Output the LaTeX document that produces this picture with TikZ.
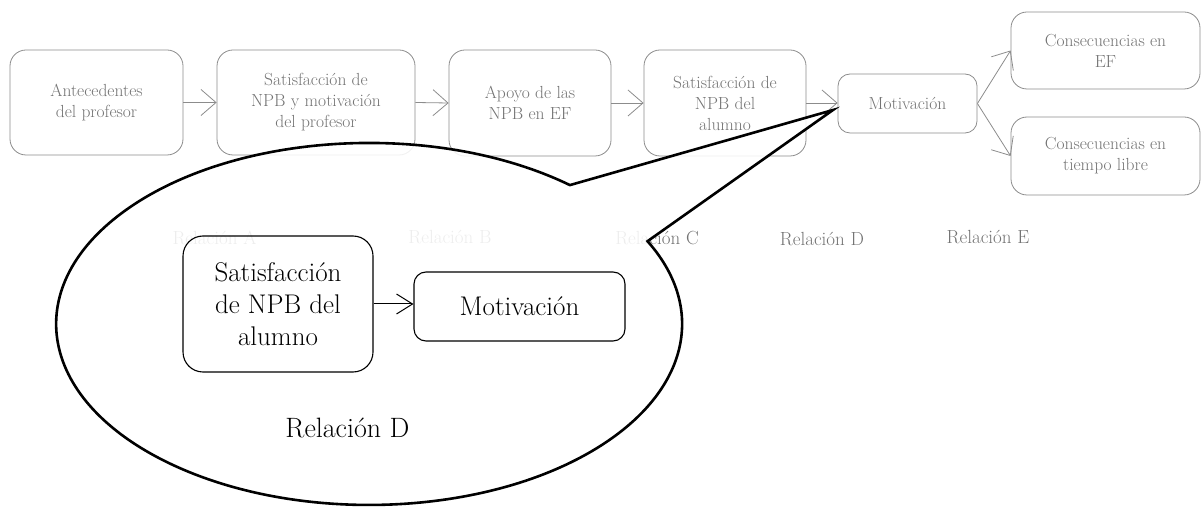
\documentclass[tikz,border=0pt]{standalone}
\usetikzlibrary{arrows.meta,calc}
\definecolor{boxgray}{gray}{0.55}
\definecolor{txtgray}{gray}{0.45}
\tikzset{
  model/.style={draw=boxgray, line width=0.8pt, rounded corners=16pt, text=txtgray,
    align=center, font=\fontsize{17.5}{21}\selectfont, inner sep=0pt},
  link/.style={draw=boxgray, line width=0.8pt,
    -{Straight Barb[length=15pt,width=26pt]}},
  rel/.style={text=txtgray, font=\fontsize{19}{22}\selectfont},
  bubble/.style={draw=black, line width=2.6pt, fill=white, fill opacity=0.88, line join=miter},
  zoombox/.style={draw=black, line width=1.1pt, rounded corners=20pt, align=center,
    font=\fontsize{27}{32}\selectfont, inner sep=0pt},
  zoomlink/.style={line width=1pt, -{Straight Barb[length=16pt,width=20pt]}},
}
\begin{document}
\begin{tikzpicture}[x=1pt,y=1pt]
\useasboundingbox (0,0) rectangle (1201,506);

% model chain
\node[model, minimum width=173pt, minimum height=105pt] (ant) at (96.5,403.5)
  {\raisebox{-9pt}{\begin{tabular}{@{}c@{}}Antecedentes\\del profesor\end{tabular}}};
\node[model, minimum width=198pt, minimum height=105pt] (sprof) at (316,403.5)
  {Satisfacción de\\NPB y motivación\\del profesor};
\node[model, minimum width=162pt, minimum height=106pt] (apoyo) at (530,403)
  {Apoyo de las\\NPB en EF};
\node[model, minimum width=162pt, minimum height=106pt] (salum) at (725,403)
  {Satisfacción de\\NPB del\\alumno};
\node[model, rounded corners=12pt, minimum width=139pt, minimum height=59pt] (motiv) at (907.5,402.5)
  {Motivación};
\node[model, minimum width=189pt, minimum height=77pt] (consef) at (1105.5,455.5)
  {Consecuencias en\\EF};
\node[model, minimum width=189pt, minimum height=78pt] (constl) at (1105.5,350)
  {Consecuencias en\\tiempo libre};

\draw[link] (ant.east) -- (sprof.west);
\draw[link] (sprof.east) -- (apoyo.west);
\draw[link] (apoyo.east) -- (salum.west);
\draw[link] (salum.east) -- (salum.east -| motiv.west);
\draw[link] (motiv.east) -- (consef.west);
\draw[link] (motiv.east) -- (constl.west);

% relation labels
\node[rel] (relA) at (214.5,268) {Relación A};
\node[rel] (relB) at (450,269) {Relación B};
\node[rel] (relC) at (657,268) {Relación C};
\node[rel] (relD) at (822,267) {Relación D};
\node[rel] (relE) at (988,269) {Relación E};

% callout bubble pointing at the motivation box
\coordinate (tip) at (833,396);
\coordinate (notch) at (569.9,320.9);
\draw[bubble] (notch)
  arc[start angle=50.1, end angle=387.2, x radius=313, y radius=181]
  -- (tip) -- cycle;

% enlarged relation D
\node[zoombox, minimum width=190pt, minimum height=136pt] (zsat) at (278,202)
  {Satisfacción\\de NPB del\\alumno};
\node[zoombox, rounded corners=12pt, minimum width=211pt, minimum height=69pt] (zmot) at (519.5,199.5)
  {Motivación};
\draw[zoomlink] (zsat.east) -- (zsat.east -| zmot.west);
\node[font=\fontsize{28}{32}\selectfont] (zrel) at (347.5,78) {Relación D};
\end{tikzpicture}
\end{document}
